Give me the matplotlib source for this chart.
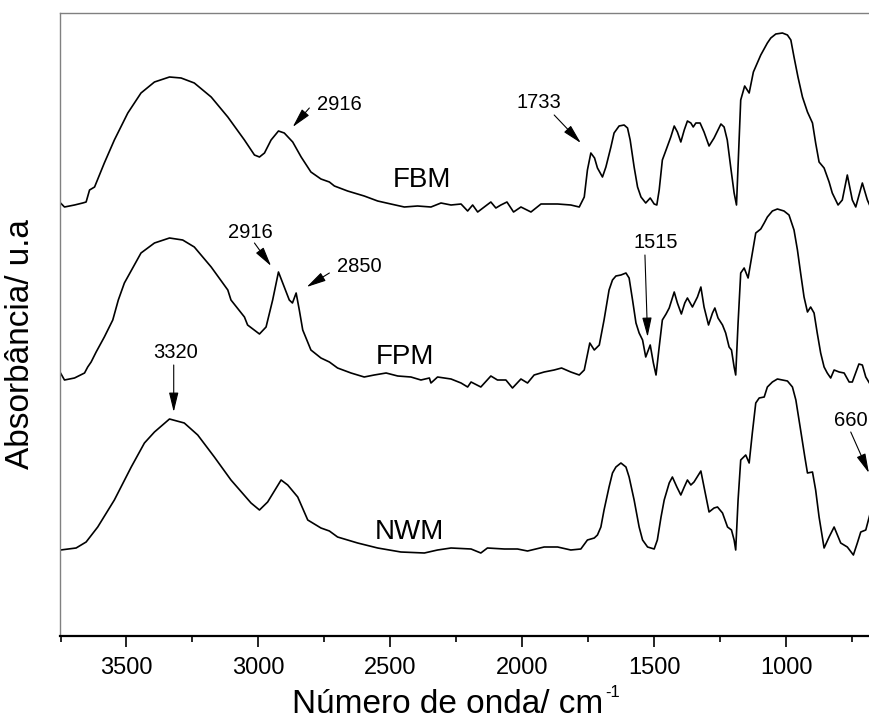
import numpy as np
import matplotlib
matplotlib.use('Agg')
import matplotlib.pyplot as plt

plt.rcParams['font.family'] = ['Liberation Sans', 'DejaVu Sans']

# espectros: (numero de onda cm-1, absorbancia u.a. ja deslocada)
fbm = [(3750, 4.33), (3735, 4.29), (3697, 4.31), (3666, 4.33), (3653, 4.34), (3640, 4.46),
       (3621, 4.49), (3584, 4.73), (3546, 4.96), (3495, 5.23), (3445, 5.43), (3394, 5.54),
       (3337, 5.59), (3293, 5.58), (3243, 5.53), (3179, 5.39), (3116, 5.19), (3053, 4.96),
       (3015, 4.81), (2996, 4.79), (2977, 4.83), (2952, 4.96), (2924, 5.05), (2902, 5.03),
       (2870, 4.94), (2838, 4.79), (2801, 4.64), (2763, 4.57), (2731, 4.54), (2712, 4.50),
       (2662, 4.45), (2599, 4.40), (2548, 4.35), (2498, 4.32), (2447, 4.29), (2397, 4.30),
       (2346, 4.29), (2308, 4.33), (2270, 4.31), (2232, 4.32), (2207, 4.25), (2188, 4.31),
       (2169, 4.24), (2144, 4.29), (2119, 4.34), (2100, 4.28), (2081, 4.31), (2058, 4.34),
       (2033, 4.24), (2005, 4.29), (1967, 4.24), (1929, 4.32), (1866, 4.32), (1816, 4.31),
       (1784, 4.29), (1765, 4.39), (1753, 4.66), (1740, 4.83), (1726, 4.78), (1715, 4.68),
       (1696, 4.59), (1683, 4.69), (1664, 4.89), (1652, 5.03), (1633, 5.10), (1614, 5.11),
       (1601, 5.08), (1591, 4.96), (1576, 4.69), (1563, 4.49), (1550, 4.39), (1532, 4.33),
       (1515, 4.38), (1500, 4.32), (1490, 4.31), (1481, 4.46), (1469, 4.76), (1455, 4.86),
       (1437, 4.99), (1424, 5.10), (1412, 5.04), (1399, 4.94), (1386, 5.06), (1374, 5.15),
       (1361, 5.13), (1352, 5.09), (1342, 5.13), (1326, 5.13), (1311, 5.04), (1292, 4.90),
       (1273, 4.98), (1247, 5.12), (1235, 5.09), (1223, 4.96), (1210, 4.69), (1197, 4.43),
       (1188, 4.31), (1172, 5.36), (1157, 5.50), (1140, 5.43), (1124, 5.64), (1096, 5.81),
       (1071, 5.93), (1058, 5.98), (1039, 6.02), (1014, 6.03), (995, 6.01), (982, 5.96),
       (970, 5.79), (955, 5.59), (938, 5.39), (919, 5.24), (900, 5.13), (888, 4.93),
       (875, 4.74), (856, 4.68), (837, 4.54), (825, 4.43), (803, 4.31), (787, 4.36),
       (768, 4.61), (749, 4.36), (736, 4.29), (711, 4.53), (692, 4.36), (682, 4.30)]

fpm = [(3750, 2.63), (3735, 2.56), (3697, 2.58), (3659, 2.63), (3647, 2.69), (3634, 2.74),
       (3615, 2.84), (3584, 2.99), (3552, 3.16), (3531, 3.36), (3508, 3.53), (3445, 3.83),
       (3394, 3.93), (3337, 3.98), (3287, 3.96), (3243, 3.89), (3179, 3.69), (3116, 3.46),
       (3104, 3.36), (3053, 3.19), (3041, 3.11), (2996, 3.02), (2971, 3.09), (2946, 3.36),
       (2924, 3.64), (2902, 3.49), (2883, 3.36), (2871, 3.33), (2857, 3.43), (2845, 3.26),
       (2832, 3.06), (2801, 2.86), (2763, 2.78), (2731, 2.74), (2700, 2.68), (2649, 2.63),
       (2599, 2.59), (2561, 2.61), (2516, 2.63), (2472, 2.60), (2422, 2.59), (2384, 2.56),
       (2352, 2.58), (2346, 2.53), (2321, 2.59), (2270, 2.57), (2232, 2.53), (2207, 2.49),
       (2194, 2.54), (2157, 2.49), (2119, 2.60), (2094, 2.56), (2062, 2.56), (2037, 2.48),
       (2005, 2.57), (1980, 2.53), (1955, 2.61), (1917, 2.64), (1879, 2.66), (1851, 2.68),
       (1816, 2.64), (1784, 2.61), (1765, 2.66), (1744, 2.93), (1727, 2.86), (1708, 2.91),
       (1690, 3.16), (1671, 3.46), (1658, 3.56), (1645, 3.60), (1626, 3.61), (1607, 3.63),
       (1595, 3.58), (1582, 3.36), (1569, 3.13), (1557, 3.03), (1544, 2.96), (1532, 2.79),
       (1515, 2.91), (1503, 2.73), (1493, 2.61), (1481, 2.89), (1469, 3.16), (1455, 3.22),
       (1443, 3.28), (1424, 3.44), (1412, 3.33), (1397, 3.22), (1384, 3.33), (1374, 3.38),
       (1355, 3.29), (1336, 3.39), (1323, 3.49), (1311, 3.29), (1294, 3.11), (1279, 3.23),
       (1270, 3.28), (1258, 3.18), (1241, 3.11), (1229, 3.03), (1216, 2.89), (1207, 2.86),
       (1197, 2.69), (1191, 2.61), (1182, 3.13), (1172, 3.63), (1159, 3.68), (1144, 3.58),
       (1128, 3.83), (1115, 4.03), (1096, 4.07), (1083, 4.13), (1071, 4.19), (1052, 4.25),
       (1033, 4.27), (1008, 4.25), (989, 4.21), (970, 4.06), (957, 3.86), (945, 3.63),
       (932, 3.39), (919, 3.24), (907, 3.29), (894, 3.23), (882, 3.03), (869, 2.83),
       (856, 2.69), (844, 2.63), (831, 2.58), (818, 2.66), (799, 2.64), (780, 2.63),
       (761, 2.54), (749, 2.54), (724, 2.72), (711, 2.71), (698, 2.59), (682, 2.52)]

nwm = [(3750, 0.86), (3691, 0.88), (3653, 0.94), (3609, 1.09), (3546, 1.36), (3482, 1.69),
       (3432, 1.93), (3394, 2.04), (3337, 2.17), (3281, 2.13), (3230, 2.01), (3167, 1.79),
       (3104, 1.56), (3028, 1.33), (2996, 1.26), (2965, 1.34), (2914, 1.56), (2889, 1.51),
       (2851, 1.39), (2813, 1.16), (2763, 1.08), (2731, 1.05), (2700, 0.99), (2624, 0.93),
       (2548, 0.88), (2460, 0.84), (2371, 0.83), (2321, 0.86), (2270, 0.88), (2194, 0.87),
       (2157, 0.83), (2132, 0.88), (2068, 0.87), (2018, 0.87), (1980, 0.85), (1917, 0.89),
       (1866, 0.89), (1816, 0.86), (1778, 0.87), (1753, 0.96), (1727, 0.98), (1715, 1.01),
       (1702, 1.09), (1690, 1.26), (1671, 1.49), (1658, 1.63), (1645, 1.69), (1626, 1.73),
       (1607, 1.69), (1595, 1.59), (1576, 1.36), (1557, 1.09), (1544, 0.96), (1525, 0.89),
       (1500, 0.87), (1488, 0.96), (1474, 1.19), (1462, 1.36), (1443, 1.53), (1431, 1.59),
       (1414, 1.49), (1399, 1.41), (1386, 1.49), (1374, 1.56), (1361, 1.51), (1349, 1.54),
       (1323, 1.65), (1311, 1.49), (1292, 1.24), (1273, 1.28), (1260, 1.29), (1241, 1.23),
       (1222, 1.09), (1207, 1.06), (1197, 0.96), (1191, 0.86), (1182, 1.36), (1172, 1.76),
       (1153, 1.81), (1140, 1.73), (1128, 2.03), (1115, 2.33), (1102, 2.38), (1083, 2.39),
       (1071, 2.49), (1052, 2.54), (1033, 2.57), (995, 2.55), (976, 2.49), (963, 2.36),
       (945, 2.06), (929, 1.79), (919, 1.63), (900, 1.64), (888, 1.46), (875, 1.19),
       (856, 0.88), (837, 0.99), (818, 1.09), (793, 0.93), (768, 0.89), (745, 0.81),
       (730, 0.93), (717, 1.04), (698, 1.06), (682, 1.22)]

sample_names = ['FBM', 'FPM', 'NWM']
band_labels = ['2916', '1733', '2916', '2850', '1515', '3320', '660']


def main():
    fig = plt.figure(figsize=(8.7, 7.22), dpi=100)
    ax = fig.add_axes([60 / 870, 86 / 722, 810 / 870, 623 / 722])

    for spec in [fbm, fpm, nwm]:
        wn, a = np.array(spec).T
        ax.plot(wn, a, color='k', lw=1.2)

    # nomes das amostras
    name_pos = [(2381, 4.56), (2443, 2.79), (2426, 1.04)]
    for nm, (x, y) in zip(sample_names, name_pos):
        ax.text(x, y, nm, fontsize=20, ha='center', va='center')

    # setas das bandas
    txt_pos = [(2693, 5.32), (1936, 5.34), (3030, 4.04), (2618, 3.69),
               (1494, 3.94), (3315, 2.83), (754, 2.16)]
    tails = [(2807, 5.28), (1879, 5.21), (3015, 3.93), (2731, 3.63),
             (1535, 3.81), (3321, 2.71), (755, 2.04)]
    tips = [(2870, 5.09), (1778, 4.93), (2952, 3.70), (2817, 3.49),
            (1525, 2.99), (3321, 2.24), (686, 1.63)]
    for lab, tp, t0, t1 in zip(band_labels, txt_pos, tails, tips):
        ax.text(tp[0], tp[1], lab, fontsize=14.5, ha='center', va='center')
        ax.annotate('', xy=t1, xytext=t0,
                    arrowprops=dict(arrowstyle='-|>,head_length=0.7,head_width=0.17',
                                    mutation_scale=17, lw=0.8, color='k',
                                    shrinkA=0, shrinkB=0))

    ax.set_xlim(3752, 682)
    ax.set_ylim(0, 6.23)
    ax.set_xticks([3500, 3000, 2500, 2000, 1500, 1000])
    ax.set_xticks([3750, 3250, 2750, 2250, 1750, 1250, 750], minor=True)
    ax.set_yticks([])
    ax.tick_params(axis='x', which='major', direction='out', length=8, width=1.2,
                   labelsize=17, pad=7)
    ax.tick_params(axis='x', which='minor', direction='out', length=4.5, width=1.2)

    ax.spines['right'].set_visible(False)
    ax.spines['left'].set_color('#808080')
    ax.spines['top'].set_color('#808080')
    ax.spines['left'].set_linewidth(1.0)
    ax.spines['top'].set_linewidth(1.0)
    ax.spines['bottom'].set_linewidth(1.6)

    xl = ax.set_xlabel('Número de onda/ cm', fontsize=24)
    ax.xaxis.set_label_coords(0.478, -0.085)
    ax.set_ylabel('Absorbância/ u.a', fontsize=24)
    ax.yaxis.set_label_coords(-0.030, 0.469)

    # expoente -1 ao lado do rotulo
    fig.canvas.draw()
    bb = xl.get_window_extent(fig.canvas.get_renderer())
    fig.text((bb.x1 + 2) / 870, (bb.y1 + 4) / 722, '-1', fontsize=12,
             ha='left', va='top')

    fig.savefig('out.png', dpi=100)


if __name__ == "__main__":
    main()
